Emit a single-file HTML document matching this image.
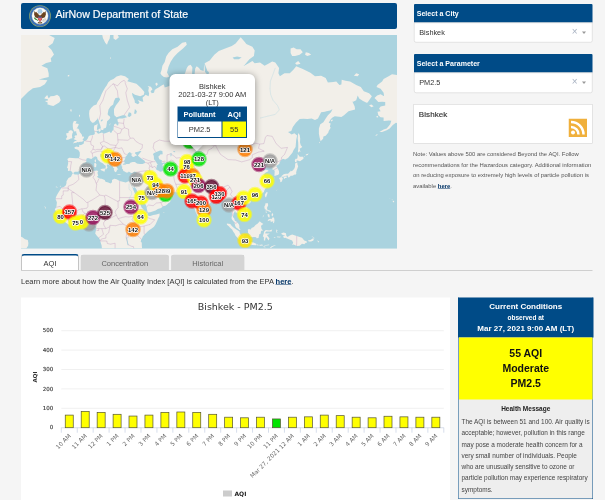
<!DOCTYPE html>
<html lang="en"><head><meta charset="utf-8"><title>AirNow Department of State</title>
<style>
html,body{margin:0;padding:0;width:605px;height:500px;overflow:hidden;background:#f5f5f5}
#root{position:absolute;left:0;top:0;width:1210px;height:1000px;transform:scale(.5);transform-origin:0 0;font-family:"Liberation Sans",Arial,sans-serif;color:#333;background:#f5f5f5;overflow:hidden}
#root *{box-sizing:border-box}
.abs{position:absolute}
.hdr{left:42px;top:6px;width:752px;height:52px;background:#004b87;border-radius:4px;color:#fff}
.hdr .t{position:absolute;left:69px;top:-3px;line-height:52px;font-size:21.3px;white-space:nowrap;-webkit-text-stroke:.35px #fff}
.seal{position:absolute;left:15.6px;top:4px;width:44px;height:44px}
.map{left:42px;top:70px;width:752px;height:427px;overflow:hidden;background:#aad3df}
.mapsvg{position:absolute;left:0;top:0;display:block;filter:blur(.7px)}
.mlab text{font:bold 5.9px "Liberation Sans",sans-serif;text-anchor:middle;fill:#111;stroke:#fff;stroke-width:1.5px;paint-order:stroke;stroke-linejoin:round}
.popup{left:297px;top:78px;width:171px;height:142px;background:#fff;border-radius:12px;box-shadow:0 3px 14px rgba(0,0,0,.4);text-align:center;font-size:15px;line-height:16.3px;color:#333}
.popup .txt{position:absolute;left:0;right:0;top:16px}
.tip{left:343px;top:212px;width:17px;height:17px;background:#fff;transform:rotate(45deg);box-shadow:0 3px 14px rgba(0,0,0,.4)}
.tipcover{left:323px;top:208px;width:60px;height:12px;background:#fff}
.ptab{position:absolute;left:15.5px;top:64.6px;width:139.5px;height:63.2px;background:#004b87}
.ptab div{position:absolute;font-size:15px;text-align:center}
.ptab .h{top:0;height:30px;line-height:29px;color:#fff;font-weight:bold}
.ptab .c{top:30.6px;height:30.8px;line-height:29px;color:#333;background:#fff}
.sec{left:827.5px;width:357.5px;height:37px;background:#004b87;color:#fff;font-weight:bold;font-size:14.1px;line-height:36.5px;padding-left:6px;border-radius:2px 2px 0 0}
.dd{left:827.5px;width:357.5px;height:40px;background:#fff;border:1px solid #ccc;border-radius:0 0 4px 4px;font-size:14.6px;line-height:39px;padding-left:10px;color:#333}
.dd .x{position:absolute;right:29px;top:-3px;color:#a9b3c2;font-size:20px}
.dd .a{position:absolute;right:12px;top:16.5px;width:0;height:0;border-left:4.5px solid transparent;border-right:4.5px solid transparent;border-top:5px solid #999}
.bx{left:827px;top:208px;width:358px;height:79px;background:#fff;border:1px solid #ccc;font-size:16px;padding:10px 0 0 9.5px;color:#333;letter-spacing:.2px;-webkit-text-stroke:.3px #333}
.note{left:826px;top:297px;width:370px;font-size:11.75px;line-height:21px;color:#555;white-space:nowrap}
.note b{color:#003366;text-decoration:underline}
.tabs{left:42px;top:508px;width:1143px;height:34px;border-bottom:2px solid #cfcfcf}
.tab{position:absolute;top:1px;height:31px;background:#d4d4d4;border:1px solid #d0d0d0;border-bottom:none;border-radius:6px 6px 0 0;text-align:center;font-size:15px;line-height:33px;color:#666}
.tab.on{top:0;background:#fff;border:2px solid #c4c4c4;border-top:3.5px solid #004b87;border-bottom:none;color:#333;line-height:31px;height:32px}
.learn{left:42px;top:553px;font-size:15px;line-height:20px;color:#333;white-space:nowrap}
.learn b{color:#003366;text-decoration:underline}
.chart{left:42px;top:595px;width:858px;height:420px;background:#fff}
.chartsvg{display:block}
.chartsvg text{font-family:"DejaVu Sans","Liberation Sans",sans-serif}
.yl{font-size:11px;fill:#333;stroke:#333;stroke-width:.25px}
.xl{font-size:11.7px;fill:#666}
.ttl{font-size:19px;fill:#333}
.yt{font-size:11px;fill:#333;font-weight:bold}
.lg{font-size:12px;fill:#222;font-weight:bold}
.cc{left:917px;top:595px;width:269px;height:403px;background:#eeeeee;border:1.6px solid #004b87;border-top:none}
.cc .h{position:absolute;left:-1.6px;right:-1.6px;top:0;height:80px;background:#004b87;color:#fff;text-align:center;font-weight:bold}
.cc .h div{position:absolute;left:0;right:0;white-space:nowrap}
.cc .y{position:absolute;left:0;right:0;top:80px;height:124px;background:#ffff00;color:#111;text-align:center;font-weight:bold;font-size:21px;line-height:30.5px;padding-top:16px}
.cc .hm{position:absolute;left:0;right:0;top:215px;text-align:center;font-weight:bold;font-size:13px;color:#222}
.cc .tx{position:absolute;left:5px;top:237.5px;font-size:12.9px;line-height:22.5px;color:#444;white-space:nowrap}
</style></head><body>
<div id="root">
<div class="abs hdr">
<svg class="seal" viewBox="0 0 44 44"><circle cx="22" cy="22" r="21.7" fill="#93a86a"/><circle cx="22" cy="22" r="20.5" fill="#356bb3"/><circle cx="22" cy="22" r="19.2" fill="none" stroke="#5d8ccb" stroke-width="1" stroke-dasharray="1.5 1.2"/><circle cx="22" cy="22" r="16.3" fill="#fdfdfb" stroke="#c8d3c0" stroke-width=".8"/>
<path d="M21 28L12.2 24.5 10.2 19 10.8 12.2 13.4 15.2 14.6 13.4 16.6 17 18 15.8 19.4 19.6 21 21.5Z" fill="#6a4522"/><path d="M23 28L31.800000000000001 24.5 33.8 19 33.2 12.2 30.6 15.2 29.4 13.4 27.4 17 26 15.8 24.6 19.6 23 21.5Z" fill="#6a4522"/>
<path d="M19.2 20.5h5.600000000000001l1 8-3.8 6.2-3.8-6.200000000000003z" fill="#5a3a1c"/>
<circle cx="22" cy="12.8" r="4.3" fill="#a9cde6" stroke="#86b2d6" stroke-width=".8"/>
<path d="M20.6 17.2q1.4-1.6 2.8 0l-.4 3.2h-2z" fill="#f3efe6"/>
<path d="M18.6 23.6h6.800000000000001v4.6q0 3-3.4 4.6-3.4-1.6-3.4-4.6z" fill="#f08a8f"/><path d="M19.9 25v5.6M22 25v7.4M24.1 25v5.6" stroke="#d9343f" stroke-width="1.1"/><rect x="18.6" y="23" width="6.8" height="2.3" fill="#2b4a8c"/>
<path d="M9.6 25.2q2.6-.4 4.200000000000001 1.7999999999999998 2.4 1.2 4.4 3.4l-1 1.6q-2.4-2.2-4.6-2.4-2.6-1.6-3-4.4z" fill="#3f9146"/>
<path d="M26.4 30.6l7.6-4.8M26.8 31.8l8.2-3.6M27.4 33l7.6-1.6" stroke="#9a917f" stroke-width=".8"/>
<path d="M18.5 33.4q3.5 2.4 7 0l1.2 2.6q-4.7 2.2-9.4 0z" fill="#7a5a36"/></svg>
<div class="t">AirNow Department of State</div></div>
<div class="abs map"><svg class="mapsvg" viewBox="0 0 376 213.5" width="752" height="427" preserveAspectRatio="none">
<rect width="100%" height="100%" fill="#aad3df"/>
<path d="M99.9 40.2L104.0 41.2L107.8 43.9L106.3 46.2L110.9 47.5L115.4 48.8L120.0 53.0L123.4 57.0L122.8 59.7L119.2 61.2L113.9 59.7L110.9 57.8L111.6 60.9L113.6 65.3L113.9 67.8L117.0 69.2L118.5 67.4L116.7 64.9L120.8 66.4L122.3 66.7L121.5 62.7L124.6 59.7L127.6 61.2L128.1 58.6L127.3 55.8L127.9 52.6L126.6 50.9L129.9 51.7L131.5 54.2L129.6 56.2L130.7 58.2L133.0 57.8L133.7 55.0L135.3 53.8L137.6 52.6L141.4 50.0L142.9 49.6L143.7 52.6L147.5 51.3L150.5 50.0L152.8 46.2L153.6 47.0L158.2 48.3L159.7 49.2L162.7 51.7L165.0 52.6L163.5 47.0L162.4 42.1L164.3 37.4L165.8 32.9L167.3 30.8L169.6 29.8L171.4 32.4L171.1 38.3L171.6 45.3L173.0 50.9L171.9 55.4L170.4 59.3L173.4 55.8L174.2 51.7L174.9 45.3L173.4 40.7L174.2 33.4L175.7 31.3L178.0 32.9L179.5 34.9L182.6 35.9L183.3 28.7L184.1 36.9L187.2 40.7L187.2 43.9L187.9 36.9L186.4 35.9L183.6 28.2L188.7 25.4L193.3 19.7L197.8 16.1L205.5 13.0L210.8 11.1L214.6 8.4L219.7 2.2L223.8 7.1L225.3 9.1L231.4 11.7L233.7 15.5L232.9 20.9L228.4 24.3L223.8 29.8L222.3 31.3L226.8 28.7L231.4 26.0L233.7 28.2L239.0 27.6L243.6 30.8L248.2 28.2L251.2 26.5L254.3 27.6L258.1 32.9L257.4 38.3L258.9 41.2L261.9 39.3L263.5 38.3L268.8 38.3L272.6 34.4L275.2 31.3L281.8 33.9L289.4 37.8L294.0 41.2L300.1 40.7L304.7 43.0L306.9 47.5L312.3 47.0L315.3 46.6L318.4 50.0L320.4 49.6L320.7 44.8L324.5 45.7L329.1 46.6L335.2 50.0L339.8 52.1L342.8 56.2L348.1 58.2L350.9 61.2L346.6 67.4L345.6 67.8L342.0 66.0L338.2 63.5L336.7 60.5L335.2 65.3L332.1 66.7L331.4 66.4L333.7 71.6L334.1 74.6L327.5 76.2L323.0 80.3L320.4 81.9L313.8 81.2L311.5 82.5L309.7 84.3L307.7 87.8L309.7 88.4L308.9 91.5L309.7 92.8L307.7 96.1L307.4 97.4L304.7 100.8L302.4 101.5L302.1 103.8L299.6 106.2L298.6 102.5L297.9 98.7L297.9 93.4L299.3 89.2L302.4 87.2L304.7 83.4L306.9 80.3L310.0 77.2L311.5 73.9L309.2 75.6L305.4 76.2L303.9 76.8L300.1 77.2L297.0 83.4L294.0 84.9L290.6 83.4L286.3 84.0L282.5 83.7L278.7 84.0L274.9 87.8L271.8 92.0L270.3 96.1L267.0 96.9L269.6 98.7L270.6 99.5L273.4 98.2L276.1 100.5L275.2 105.0L274.9 108.6L274.6 112.1L272.6 115.1L271.4 117.8L269.1 120.4L267.0 123.1L264.2 124.6L261.9 123.8L260.1 125.2L258.6 127.3L258.4 128.7L256.3 130.3L255.1 131.1L256.4 133.1L258.0 136.1L258.1 138.4L257.4 139.7L255.1 140.5L253.4 141.0L253.5 139.0L253.7 136.5L253.1 134.8L251.2 134.6L251.6 133.1L250.9 131.1L250.2 130.5L246.7 132.1L245.4 132.7L246.2 131.3L247.0 129.3L245.1 128.5L242.9 130.7L240.6 131.9L240.1 133.1L241.8 134.6L242.4 135.8L244.8 134.6L247.4 135.6L247.3 136.3L244.8 137.5L244.1 138.0L242.5 139.9L244.1 141.4L244.8 144.0L246.4 145.8L246.5 147.4L244.8 148.4L246.7 149.3L246.1 151.6L244.7 153.0L243.3 155.4L242.9 157.1L240.9 158.6L239.0 160.1L237.5 161.1L234.9 161.9L233.7 162.2L231.0 163.2L229.1 163.7L228.7 165.2L228.1 163.6L226.1 163.1L223.8 164.2L223.2 165.4L221.8 167.5L223.0 169.5L224.5 171.5L226.5 173.4L227.3 176.2L227.1 178.9L225.3 180.3L223.5 181.2L223.2 182.6L221.0 183.7L220.4 182.0L220.0 181.0L218.4 180.7L217.5 178.9L216.1 177.8L214.5 177.5L214.5 176.2L213.4 176.4L213.1 177.8L212.3 180.1L211.9 182.0L213.1 183.2L213.9 185.8L215.4 186.6L216.6 187.7L218.0 189.4L218.4 190.9L218.3 192.7L219.5 194.9L218.4 195.0L216.9 193.8L215.1 192.6L214.2 190.9L213.7 188.6L213.2 187.1L212.5 186.3L211.1 184.8L210.5 183.2L210.8 180.9L211.1 178.6L210.4 176.2L209.6 173.8L209.4 171.5L208.4 170.8L206.2 172.6L204.4 172.3L204.7 169.9L203.9 167.8L203.2 166.0L201.3 164.5L200.9 163.1L200.1 161.7L198.6 161.4L196.3 162.7L195.1 163.1L193.3 164.2L193.0 165.5L191.0 166.3L188.7 168.3L186.1 171.0L184.4 172.3L183.0 173.1L182.7 175.4L183.0 177.0L182.4 178.6L182.3 181.2L181.4 181.4L180.9 182.7L179.8 183.4L178.8 184.6L177.2 183.2L176.5 180.9L175.4 178.6L174.6 177.0L174.0 174.6L173.1 172.6L172.4 170.7L171.7 167.5L171.4 165.0L171.3 163.4L170.7 164.2L168.8 164.5L167.3 163.9L165.8 162.1L167.3 161.6L168.1 160.9L165.8 161.1L165.0 160.1L163.5 159.3L162.7 157.9L162.0 156.9L158.9 157.2L155.1 157.2L152.1 157.1L149.0 156.6L147.5 154.5L146.4 154.0L144.1 154.9L142.1 154.5L140.6 153.2L139.1 152.6L138.0 150.7L136.8 148.8L135.3 148.4L134.5 149.1L133.7 149.9L134.5 151.6L135.7 153.7L136.9 154.9L137.1 156.4L138.0 157.9L138.0 156.7L138.6 155.7L139.2 157.2L138.9 158.4L140.6 159.1L142.9 159.1L144.9 157.2L146.1 155.7L146.6 157.6L147.2 158.9L149.8 159.9L151.8 161.7L150.1 164.9L148.7 167.5L147.9 167.8L146.4 169.2L144.4 170.7L141.8 171.3L140.2 172.9L136.8 174.0L134.5 175.4L131.5 176.4L129.2 177.3L126.9 177.5L126.4 176.2L125.8 173.8L125.5 171.5L124.6 169.5L123.1 167.5L121.5 165.4L120.3 163.4L119.2 160.1L117.4 157.9L116.2 155.9L114.7 153.3L113.6 152.5L113.9 149.9L113.1 152.1L112.7 153.0L111.6 151.9L110.5 149.9L110.2 149.1L110.1 150.2L111.6 152.8L112.4 155.0L113.9 158.4L114.8 160.1L116.7 162.6L117.3 164.2L117.3 166.7L119.2 169.1L120.6 172.6L122.3 174.2L123.8 175.7L125.7 177.1L126.6 177.9L126.4 179.2L127.6 180.9L129.2 180.9L132.2 180.0L135.3 179.6L138.6 178.6L138.5 180.9L137.3 183.2L136.0 186.3L134.5 189.4L133.0 191.7L130.7 193.5L128.4 195.0L126.1 197.0L124.6 198.5L123.1 200.1L121.8 201.6L121.1 203.3L120.3 204.6L119.7 206.6L120.8 207.7L120.8 210.0L121.2 215.4L81.1 215.4L80.6 210.5L79.3 206.2L78.8 204.6L78.0 203.1L75.8 200.8L74.2 198.5L74.7 196.2L75.3 193.9L75.1 191.7L74.1 190.1L71.2 190.3L69.7 190.4L68.1 188.6L67.2 187.4L64.3 187.2L62.0 188.0L59.7 188.9L57.4 189.7L55.2 189.1L52.9 189.2L49.1 190.3L46.8 189.1L44.0 187.1L41.4 185.5L40.2 184.0L40.2 182.4L38.4 180.9L37.3 179.8L35.0 177.9L34.9 176.2L33.8 174.3L35.3 172.3L35.6 169.9L35.9 167.5L35.3 165.8L34.6 164.2L34.9 162.2L36.1 159.8L37.9 156.7L40.2 153.3L40.8 152.6L42.9 151.9L44.9 150.2L45.5 148.1L45.5 146.3L47.5 143.1L50.0 141.8L51.5 138.4L52.4 138.2L53.6 139.5L55.9 139.4L57.4 139.7L59.0 138.6L60.5 138.2L62.8 137.1L65.1 136.5L68.1 136.5L71.2 136.0L74.2 135.8L75.8 135.6L77.0 136.1L77.3 136.3L76.5 137.3L76.7 139.0L77.3 140.8L75.9 141.8L77.3 142.7L79.6 143.8L80.6 143.8L83.7 144.9L84.5 146.7L87.2 147.4L89.5 148.4L91.0 147.2L91.0 144.9L93.3 143.8L95.6 144.3L98.6 146.0L101.7 146.7L104.8 147.4L106.3 146.7L107.8 146.3L109.8 146.8L111.6 147.0L112.8 146.7L113.8 144.5L114.1 143.2L114.8 141.2L115.3 139.0L115.6 137.1L114.7 136.9L113.3 136.5L111.9 137.7L110.1 137.9L107.8 136.5L107.0 137.5L105.2 137.5L103.7 136.5L102.3 136.1L102.0 134.4L100.9 133.3L101.4 131.7L100.5 131.3L100.5 130.3L100.2 128.9L98.6 128.5L97.1 128.9L96.8 130.3L95.4 129.5L95.1 131.3L96.1 132.3L95.6 132.9L97.1 133.8L97.1 134.8L95.9 134.4L95.9 135.6L95.3 136.7L94.8 137.3L93.6 136.5L92.8 134.6L93.3 133.6L92.2 132.7L91.5 131.3L90.7 129.9L90.1 129.3L90.3 127.3L89.8 126.3L88.7 125.2L87.2 124.2L84.9 122.9L83.7 121.7L83.2 119.9L82.3 119.3L81.7 120.4L81.3 118.9L79.4 119.1L79.3 121.4L81.1 122.9L82.2 125.2L83.7 126.5L85.1 126.5L84.9 127.5L86.4 128.3L88.7 130.1L88.6 130.7L87.8 129.7L86.4 129.3L85.7 130.9L86.6 132.3L85.7 133.4L85.1 134.4L84.5 134.2L84.6 132.5L84.9 131.5L84.3 130.3L83.4 129.9L82.6 129.1L81.4 127.9L79.6 127.3L79.1 126.7L77.6 125.4L76.5 124.2L76.1 122.3L75.0 121.4L73.9 121.2L73.0 122.3L71.8 122.7L70.4 124.0L68.6 123.6L66.9 123.1L65.4 123.8L65.2 125.4L65.4 126.7L63.9 127.7L61.7 128.7L60.5 130.5L60.0 131.5L60.8 132.9L59.7 133.6L59.3 135.0L57.6 136.3L56.8 136.7L53.8 136.7L52.4 137.9L51.3 137.7L50.7 136.5L49.2 135.8L46.9 136.1L47.1 133.4L46.0 132.7L46.8 130.3L47.2 127.9L46.9 125.2L46.3 124.0L48.3 122.7L51.3 122.9L54.7 123.3L57.8 123.3L58.7 121.0L58.8 118.6L58.7 117.3L57.3 115.1L56.2 114.4L53.9 113.7L53.3 112.4L55.2 111.4L57.4 111.9L58.2 111.7L58.1 109.6L58.8 110.3L60.8 109.8L62.8 108.4L62.9 106.5L65.4 105.3L66.6 103.8L67.7 101.3L68.9 100.5L71.2 100.0L73.0 99.7L73.8 98.7L73.6 96.3L73.0 94.7L72.9 92.0L73.5 90.3L75.0 90.1L76.7 88.6L76.2 92.0L75.8 95.5L75.3 96.6L76.1 97.7L77.1 98.7L78.8 98.2L81.1 97.4L82.3 98.7L84.9 97.9L88.7 96.6L89.2 97.7L90.7 97.4L91.0 96.3L92.5 94.7L92.7 91.2L93.3 89.2L95.0 88.6L95.9 90.3L97.1 90.6L97.7 87.8L96.7 86.6L96.4 84.3L98.2 83.4L101.7 83.4L103.2 83.1L106.0 82.2L104.0 80.3L101.7 80.3L98.6 81.2L95.6 82.2L93.3 80.3L93.0 77.2L93.0 73.9L94.8 70.6L97.9 66.4L99.1 64.6L98.0 62.4L94.5 63.1L93.0 66.0L92.2 69.5L89.5 71.6L87.5 74.6L86.7 78.8L86.9 80.0L88.7 81.2L89.3 82.8L88.3 84.3L86.1 86.3L85.7 89.2L85.2 92.0L84.6 93.1L82.6 93.4L82.2 95.0L80.3 95.0L79.9 93.1L79.3 90.6L78.5 88.4L77.6 85.2L76.8 84.0L76.7 82.5L76.2 84.3L75.0 85.5L73.0 87.5L71.2 87.8L69.2 85.5L68.4 81.9L68.1 78.8L68.4 75.6L70.1 72.9L72.7 70.6L75.5 69.5L76.5 67.1L78.8 63.5L80.3 59.7L82.3 55.8L84.2 52.6L85.7 50.5L87.2 47.5L89.5 45.3L92.5 43.9L95.6 41.6Z M-8.2 200.1L-2.8 201.4L1.0 202.0L4.0 204.3L6.8 205.1L7.4 207.9L7.1 210.8L5.6 213.1L2.5 217.0L-8.2 217.0Z M23.3 171.0L24.5 173.4L25.1 173.7L24.5 171.9Z M77.3 94.5L79.6 93.1L79.7 95.5L78.5 96.9L77.3 95.5Z M75.5 94.7L76.8 94.7L76.8 96.1L75.8 96.1Z M88.3 90.1L89.5 88.1L89.2 89.5L88.4 90.6Z M51.8 108.4L54.1 107.7L55.2 107.9L55.9 107.0L57.8 107.2L59.0 106.7L61.0 106.7L62.6 105.7L62.5 105.3L61.4 105.0L62.0 104.3L63.1 102.3L62.5 101.5L61.0 101.5L61.0 100.0L60.2 98.7L58.7 97.1L58.1 94.7L57.1 93.4L55.6 93.4L56.5 92.3L57.4 90.6L57.8 88.9L55.2 88.6L54.4 88.9L55.6 86.3L52.9 86.0L51.8 88.6L51.8 91.5L52.1 93.9L53.0 96.1L52.7 96.6L55.2 96.3L55.3 97.9L55.9 99.0L55.9 100.3L53.9 100.5L53.5 101.8L54.4 102.8L52.6 104.0L53.9 104.8L55.9 105.3L55.2 105.7L53.6 106.2Z M51.3 103.3L51.0 100.5L51.3 98.7L52.1 97.1L51.0 95.5L49.1 95.3L47.5 96.6L47.5 97.9L45.2 98.2L45.5 100.5L46.3 101.3L45.5 103.3L44.8 103.8L45.7 105.0L47.8 104.5L49.8 103.5Z M26.2 69.2L30.0 70.6L32.3 70.9L36.1 68.8L38.2 67.4L39.7 65.3L38.4 61.6L36.1 59.7L33.0 60.9L29.5 61.2L27.7 63.5L26.2 60.1L23.9 62.4L23.4 63.5L26.9 64.2L26.9 65.6L23.9 66.0L26.9 67.8Z M76.5 -11.7L78.0 -5.3L81.1 -0.7L81.9 2.9L84.2 7.8L86.0 9.8L86.9 7.1L88.7 3.6L89.5 -3.7L92.5 -7.6L92.5 -35.6L76.5 -35.6Z M92.5 3.6L94.8 5.0L97.9 2.2L95.6 -2.2L92.5 0.0Z M89.5 -9.2L95.6 -7.6L101.7 -11.7L101.7 -35.6L89.5 -35.6Z M139.4 38.3L140.6 34.9L141.4 30.8L143.7 27.1L145.2 21.5L147.5 17.9L151.3 14.3L156.6 11.7L161.2 7.8L165.0 7.1L165.8 9.8L162.0 13.6L156.6 17.9L152.8 22.0L149.8 26.5L147.5 31.8L146.0 37.4L148.2 41.6L146.0 42.6L142.9 42.1L140.6 40.2Z M134.2 48.8L136.0 47.5L136.8 49.6L135.3 50.9Z M149.8 44.4L151.3 42.6L152.8 45.3L151.3 46.6Z M208.5 -7.6L211.6 -3.7L213.9 -0.7L217.7 -1.5L220.7 -3.0L217.7 -11.7L213.1 -35.6L208.5 -35.6Z M269.6 13.6L272.6 12.4L275.7 14.3L279.5 14.3L281.8 17.3L278.7 19.7L274.1 20.9L271.1 20.9L269.6 17.9Z M284.8 17.3L287.9 17.9L290.2 19.7L286.3 20.9L284.1 19.7Z M274.1 28.2L277.2 26.0L279.5 28.7L275.7 29.8Z M332.9 40.7L335.2 38.3L338.2 39.3L336.7 41.2Z M353.5 63.1L356.1 60.5L359.6 59.3L363.1 61.2L362.6 57.8L359.6 53.8L355.5 52.1L356.5 50.0L361.1 46.6L362.6 43.9L367.2 41.6L371.0 39.3L381.0 40.7L381.0 89.2L374.9 87.8L371.8 90.1L368.7 93.4L365.7 95.3L361.1 96.9L358.4 97.1L362.6 94.5L365.7 93.4L369.2 89.2L370.3 85.7L368.0 85.5L362.6 86.0L362.6 82.5L359.6 82.2L357.3 80.3L356.5 76.8L359.6 76.2L358.1 73.6L359.6 71.6L364.2 70.6L364.2 67.1L361.1 66.7L357.3 67.1L355.0 64.6Z M348.1 70.2L350.4 69.5L352.7 71.2L350.4 72.3Z M355.3 81.2L356.8 80.9L357.3 82.2L355.8 82.5Z M277.2 97.9L278.7 100.0L279.2 103.8L279.0 107.4L279.8 110.3L281.3 111.9L278.7 113.7L279.2 116.0L279.5 117.3L278.3 116.2L277.2 117.8L276.9 116.4L277.2 114.4L277.3 111.0L277.2 107.4L276.7 103.8L276.9 100.3Z M274.1 127.3L275.7 126.7L275.7 125.2L279.0 126.3L282.5 123.8L282.2 121.7L278.7 121.7L276.7 119.1L276.6 122.1L276.1 123.8L274.6 123.8L273.8 125.2Z M276.3 127.5L276.4 129.3L277.2 131.3L276.4 133.6L275.7 135.2L275.1 137.7L275.4 138.6L274.1 139.9L273.7 139.4L272.6 139.9L272.2 140.5L271.1 140.7L269.6 140.7L269.3 141.2L268.5 142.0L267.7 142.7L266.7 141.2L267.0 140.5L265.0 140.7L263.5 141.2L262.4 141.8L260.4 141.8L260.3 141.2L261.2 140.5L262.7 139.2L265.0 138.8L267.0 138.8L268.0 137.7L269.1 136.5L270.0 135.2L269.6 136.5L271.8 135.4L273.4 133.6L274.0 131.7L274.1 130.3L274.1 129.1L274.6 127.9Z M260.3 142.0L261.5 142.7L261.9 143.6L261.2 145.4L260.6 146.7L259.9 147.2L259.2 146.7L259.2 145.1L258.4 144.1L258.1 143.1L259.3 142.5Z M262.7 142.0L265.0 141.2L266.0 142.1L265.3 143.1L264.2 142.9L263.5 144.1L262.7 143.2Z M245.9 157.1L246.7 157.6L245.9 160.1L245.0 162.6L243.9 161.3L243.9 159.6L245.1 157.6Z M226.4 167.0L227.6 165.8L229.6 165.8L229.9 166.7L229.0 168.1L227.6 168.7L226.4 168.1Z M244.5 168.3L247.0 168.3L247.1 170.7L246.1 172.3L246.1 173.8L246.7 175.1L248.7 175.4L249.7 175.9L249.9 177.6L248.7 176.7L247.4 176.2L246.2 175.6L244.5 175.6L245.0 174.5L243.8 174.2L243.3 171.8L244.2 169.9Z M246.7 186.3L247.0 184.8L249.0 183.7L250.5 184.0L252.0 182.0L253.2 183.2L253.5 185.8L253.1 187.4L251.9 188.4L252.2 186.3L249.7 187.1L249.7 185.5L248.2 185.5Z M251.2 177.8L252.3 179.8L251.2 181.4L250.5 180.1Z M246.7 178.9L248.2 179.3L248.7 180.9L248.2 182.9L247.4 182.0L246.7 180.9Z M239.5 184.3L242.9 180.9L243.2 179.6L241.3 182.4Z M244.4 176.4L245.9 176.7L245.4 178.1L245.0 177.8Z M226.8 194.7L227.7 193.9L229.9 194.4L230.5 192.9L232.9 192.1L234.5 190.1L236.8 188.6L238.7 186.3L240.1 187.4L242.4 188.9L240.9 190.1L240.0 190.9L240.3 192.4L240.6 193.9L242.1 195.5L240.3 195.8L239.8 197.0L239.8 198.5L238.3 199.3L237.8 201.6L237.5 203.1L235.4 203.3L235.2 202.2L232.9 201.9L231.1 202.3L228.7 201.4L228.4 199.3L227.1 198.1L227.0 196.5Z M205.9 188.4L209.3 189.1L210.8 190.9L213.1 192.9L214.6 193.9L216.9 195.5L218.4 196.5L218.9 198.5L220.0 199.7L222.3 201.6L222.3 205.9L221.9 206.0L220.0 205.7L217.7 203.9L216.5 202.8L214.6 200.8L213.6 198.5L212.3 196.7L211.1 194.4L209.3 192.9L207.8 191.3L205.9 189.7Z M221.0 207.4L222.3 206.0L223.8 206.0L226.1 206.9L229.1 207.6L229.9 206.9L232.5 207.6L235.2 208.8L235.1 210.3L231.4 209.9L228.4 209.2L225.3 208.9L222.9 208.3Z M235.2 209.4L237.1 209.6L236.8 210.5L235.4 210.0Z M237.5 209.7L238.6 209.7L238.4 210.6L237.5 210.5Z M238.7 209.9L240.6 209.6L242.2 209.9L241.8 210.6L239.0 210.8Z M243.3 209.9L245.1 210.0L248.2 209.6L247.9 210.3L245.1 210.6L243.5 210.5Z M242.1 211.4L243.9 211.4L244.8 212.3L242.9 212.2Z M249.0 212.8L250.5 211.3L254.3 209.9L254.6 210.3L251.2 212.0L249.7 213.3Z M242.9 205.4L242.9 202.3L241.8 201.3L242.5 199.3L243.3 196.2L244.8 195.0L248.2 195.6L251.2 194.6L250.5 196.4L248.2 196.5L245.1 196.4L243.9 198.2L245.9 198.5L248.7 198.4L247.9 199.3L245.9 199.9L247.1 201.6L248.5 203.4L247.6 205.4L246.7 204.3L245.9 203.1L245.0 202.0L244.2 204.3L244.2 205.6Z M255.1 194.1L255.8 195.5L256.9 195.2L255.8 196.5L256.6 198.1L255.5 197.5L255.1 195.9Z M255.8 201.6L260.1 201.7L258.9 202.5L256.1 202.3Z M252.8 201.9L254.6 202.0L254.0 202.8L252.9 202.5Z M260.4 198.2L262.7 197.6L265.0 198.2L265.3 200.8L266.5 202.0L268.8 200.4L271.1 199.4L275.7 201.0L281.0 202.8L283.3 205.4L285.6 206.2L286.0 207.7L284.8 207.7L283.3 209.2L281.0 208.8L278.7 210.8L275.7 211.1L272.6 209.6L271.1 209.9L272.2 207.7L271.1 205.4L267.3 203.9L264.2 202.8L263.1 203.1L261.9 201.4L264.2 200.7L261.9 200.1L260.4 199.1Z M286.8 205.6L289.4 204.9L291.7 203.4L292.9 203.6L292.4 205.4L290.2 206.5L287.9 206.5Z M290.6 201.1L293.2 202.8L294.0 204.2L293.5 203.4L290.9 201.6Z M296.4 205.3L298.2 206.8L297.8 207.6L296.7 206.5Z M182.3 182.1L182.9 182.0L184.4 184.0L185.5 185.8L185.0 187.2L183.5 188.0L182.6 187.5L182.3 185.5L182.3 184.0Z M109.8 139.9L110.9 140.7L112.4 139.9L113.3 138.6L111.6 139.2L110.7 139.4Z M96.4 139.0L97.9 139.2L100.6 139.5L98.2 140.1L96.4 139.5Z M79.6 134.2L81.1 133.8L84.3 133.6L83.7 135.8L83.5 136.7L81.9 136.1L79.6 135.0Z M73.0 128.5L74.5 127.9L75.5 129.3L75.1 131.9L74.2 132.3L73.3 131.9L73.3 129.7Z M73.6 125.2L74.8 124.2L75.0 126.3L74.5 127.5L73.8 126.7Z M64.2 131.1L65.2 130.5L65.7 131.1L65.1 131.7Z M141.8 177.6L143.7 177.6L142.9 178.1Z M371.8 165.5L373.3 166.3L372.6 167.5L371.8 166.7Z M370.7 164.2L371.6 164.4L371.5 164.9L370.9 164.7Z M368.4 163.2L369.2 163.4L369.1 163.7L368.6 163.6Z M49.2 74.6L50.7 74.6L50.4 76.8L49.5 76.2Z M58.1 79.7L59.1 80.0L58.7 82.2L58.1 81.2Z M46.8 40.2L48.3 39.8L48.3 41.2L46.8 41.6Z M89.0 22.6L89.9 22.6L89.8 23.8L89.2 23.8Z M34.7 151.8L35.9 151.4L35.6 152.5L34.9 152.3Z M36.4 152.1L37.1 152.3L36.8 153.0Z M38.7 151.4L39.9 150.4L39.4 152.1Z M309.7 85.7L311.2 84.3L311.8 85.5L310.2 86.6Z M297.8 107.4L299.0 106.7L298.6 108.2Z M284.8 119.5L287.6 118.6L286.7 119.9L284.8 120.6Z M282.5 122.3L284.1 121.0L283.6 122.1Z M255.2 155.5L256.3 154.5L255.8 155.4Z M253.1 143.1L254.1 142.7L254.0 143.2Z M221.2 199.6L223.0 200.1L223.3 201.6L221.6 200.8Z M354.3 100.5L356.2 99.0L356.5 100.0L355.0 100.8Z M28.1 -5.0L28.1 0.0L33.7 2.9L31.7 8.2L27.1 11.5L30.4 14.8L33.0 19.5L29.7 23.4L30.4 26.7L25.1 28.1L20.4 30.7L26.4 33.3L27.7 38.6L27.7 41.9L22.4 43.3L17.8 44.6L26.4 45.2L23.8 49.2L19.1 51.9L11.9 53.2L7.0 57.0L4.0 60.0L0.0 64.0L-6.0 69.0L-6.0 -5.0Z" fill="#f2efe9"/>
<path d="M78.0 84.9L79.6 78.8L78.8 70.6L81.9 65.3L84.9 55.8L91.0 49.6L92.5 48.8 M97.1 62.4L96.4 55.8L92.5 48.8L96.4 50.9L99.9 47.0L103.2 45.3L104.8 47.5 M102.9 80.3L106.3 75.6L108.6 72.3L106.3 65.3L104.8 57.8L106.3 53.8L104.0 47.5 M103.2 83.7L102.5 88.4L103.5 92.8L107.5 94.2L107.8 100.0L109.3 103.3L112.4 103.0L114.7 106.2L118.5 108.6L121.5 109.6L121.1 113.3L118.8 115.1 M92.5 95.3L95.3 97.7L96.4 98.7L96.8 103.8L97.1 107.4L95.1 110.5 M92.7 91.2L97.1 92.6L100.9 94.2L103.5 92.8 M97.7 87.8L102.5 88.4 M96.4 98.7L99.4 98.2L100.9 94.2 M82.3 99.0L82.9 106.2L79.1 107.9L81.6 111.4L80.3 114.4L75.8 114.4L75.0 115.1L71.9 114.2L72.7 111.0L70.0 109.8L69.7 106.7L64.3 106.0 M69.7 106.7L71.2 103.0L71.5 100.5 M73.6 96.3L75.3 96.6 M57.8 123.3L61.6 124.8L65.2 125.4 M71.9 122.5L71.2 118.2L69.7 117.1L71.9 114.2 M71.2 118.2L73.5 117.3L76.4 116.4L79.3 116.0L81.4 116.7L81.3 118.9 M81.4 116.7L85.2 116.0L86.6 113.3L89.2 113.7L94.4 112.4L95.1 110.5 M80.3 114.4L81.6 111.4L83.4 111.0L86.6 113.3 M47.1 126.5L50.6 126.7L49.8 130.3L49.5 133.3L49.2 135.8 M96.8 104.8L101.7 105.0L107.0 105.3L109.3 103.3 M94.4 112.4L97.9 113.5L100.9 112.8L103.5 118.9L105.8 119.5 M83.1 106.5L86.4 107.9L89.5 109.8L95.1 110.5 M85.2 116.0L85.7 117.8L89.5 118.0L91.5 117.5L94.4 112.4 M91.5 117.5L93.3 120.4L95.1 121.7L98.6 122.7L104.0 122.7 M89.5 118.0L89.5 120.2L90.1 123.1L88.7 125.2 M81.3 118.9L84.2 118.9L85.7 117.8 M84.6 119.5L84.9 121.7L87.5 124.2 M89.9 126.5L91.8 128.3L92.5 128.5L95.4 127.7L100.6 126.9L103.2 126.3 M95.1 121.7L94.7 125.4L95.4 127.7 M91.8 128.3L91.9 126.3L91.2 125.0L90.1 123.1 M100.6 126.9L100.2 128.9 M123.8 127.3L126.9 128.1L128.9 130.9L128.1 133.3L128.9 135.8 M115.4 137.7L118.5 136.5L125.0 135.8L128.9 135.8L130.7 139.0L129.9 141.8L133.3 147.2L134.5 149.1 M125.0 135.8L123.1 141.0L120.0 144.9L117.0 146.3L113.9 149.9 M114.8 143.2L116.2 144.7L120.0 144.9 M115.3 139.0L116.3 141.4L114.8 143.2 M120.0 144.9L128.7 150.4L131.5 150.6L133.0 150.7L134.4 151.6 M125.8 171.6L127.6 170.0L132.2 170.7L135.3 168.1L139.8 167.5L144.4 165.8L145.5 162.6L144.7 161.4L140.8 161.1L139.2 158.9 M139.8 167.5L141.5 171.3 M145.5 162.6L146.0 158.4L146.4 156.6 M142.7 135.6L147.5 133.8L153.9 136.9L152.8 142.3L153.6 146.3L154.8 149.3L156.6 154.2L154.5 157.2 M154.8 149.3L161.7 149.3L166.2 145.6L168.8 141.8L169.6 137.5L174.2 136.1 M153.9 138.8L158.9 137.5L162.0 135.6L167.3 135.2L169.6 134.2L174.8 135.6 M164.6 159.8L168.8 158.4L167.3 153.3L171.9 149.3L174.2 147.2L175.4 144.5L173.4 140.8L178.0 139.0 M174.8 135.6L178.0 139.0L181.1 144.5L184.1 148.6L188.7 151.1L194.8 152.6L196.3 153.7L200.9 152.8L207.0 150.2L209.0 152.1 M182.9 151.1L188.7 153.5L194.9 155.2L196.0 158.8L196.3 162.6 M201.3 164.5L201.3 159.9L199.7 159.3L201.5 157.6L197.5 157.1L194.9 155.2 M196.3 153.7L197.5 154.7L200.9 154.5L200.9 152.8 M209.0 152.1L205.8 155.0L204.9 157.6L202.9 159.3L201.8 162.6L201.3 164.5 M209.0 152.1L211.1 156.7L209.4 159.3L211.9 162.6L214.8 163.4L213.2 165.4L210.0 166.3L209.1 168.3L211.3 171.5L210.4 173.8L211.9 178.6L211.1 181.4 M213.2 165.4L214.6 169.9L216.3 168.7L219.2 168.6L220.4 171.5L221.6 174.6L216.9 175.1L216.8 176.2L217.5 178.9 M214.8 163.4L216.3 161.9L219.0 161.4L223.2 161.1L225.3 163.4 M216.3 161.9L217.7 164.5L220.6 166.2L221.0 168.4L224.5 171.9L224.5 174.6L224.5 178.1L222.3 180.1L220.0 181.0 M221.6 174.6L224.5 174.6 M213.2 187.1L214.6 188.3L216.3 187.5 M194.5 110.5L199.4 119.3L207.0 124.6L214.6 125.0L220.7 126.9L228.4 124.8L231.4 122.5L231.1 119.9L237.5 117.1L243.2 116.2L237.5 113.3L238.6 109.1 M194.5 110.5L200.9 107.0L210.0 107.9L210.8 103.8L216.1 105.3L222.3 107.9L228.4 110.5L234.5 108.2L238.6 109.1L242.9 108.6L244.4 102.5L245.9 100.5L251.2 101.3L255.1 108.6L260.1 113.3L266.5 112.4L263.5 119.5L260.7 122.1L260.4 124.2L259.8 125.4L255.8 127.3L254.0 126.9L250.2 130.5 M253.1 134.6L256.3 133.1 M134.5 116.7L132.2 112.8L133.0 107.9L138.3 105.0L143.7 106.2L149.8 106.2L153.6 106.2L154.3 100.0L159.7 97.4L165.8 95.3L169.6 98.2L172.7 98.7L177.7 97.9L178.8 100.8L182.6 106.7L187.2 106.2L190.2 109.6L193.7 110.5L191.0 113.3L187.2 115.1L186.1 119.3L182.9 119.9L183.0 124.6L183.0 125.8L179.5 128.3L176.5 129.5L173.4 130.3L173.0 131.3L174.8 135.6 M183.0 124.6L181.1 124.8L174.9 124.4L172.7 124.2L168.8 124.8L168.1 127.3L164.3 128.3L162.0 127.3L161.2 124.2L158.9 122.7L155.1 123.1L153.6 121.4L149.8 118.9L146.0 119.9L146.0 127.7L147.5 127.7L149.8 125.0L152.1 125.8L154.3 127.9L155.6 130.3L158.5 132.5L162.0 135.6 M168.1 127.3L170.4 127.7L172.2 129.3L169.6 129.9L168.1 128.7L166.6 129.9L168.1 130.9L173.0 131.3 M166.6 129.9L164.0 131.7L164.0 135.8 M140.6 126.7L143.7 126.3L145.2 127.7L146.0 127.7 M121.5 123.1L126.1 125.0L131.5 126.7L134.5 126.7 M126.9 128.1L129.2 127.7L131.5 126.7 M129.2 127.7L129.9 128.9L131.5 132.5 M128.9 130.9L131.5 132.5L133.7 131.3L135.1 133.4 M57.1 139.7L57.9 144.5L55.0 147.2L52.1 149.3L47.2 151.2L47.2 153.7 M40.7 153.0L47.2 153.0L47.2 155.9L42.2 155.9L42.2 160.1L40.7 160.9L40.7 163.7L34.6 163.7 M47.2 153.7L53.2 157.6L50.6 157.6L52.0 171.5L52.4 173.1L45.2 173.2L42.9 172.9L41.9 174.2L39.1 171.3L35.3 172.3 M53.2 157.6L62.3 164.2L65.5 167.5L66.9 167.3L71.9 164.5L78.8 160.1L75.0 155.2L75.8 149.0L75.0 148.4 M73.6 136.3L73.2 140.8L71.9 142.1L74.2 145.4L75.0 148.4L76.1 147.7L78.0 143.4 M98.6 146.1L98.6 162.6L98.6 165.8L97.1 165.8L97.1 166.7L84.9 160.1L83.4 160.9L78.8 160.1 M98.6 162.6L116.8 162.6 M97.1 166.7L97.1 172.7L94.8 175.4L94.1 177.6L95.4 180.1L96.5 182.4L97.1 183.7L101.7 182.3L104.8 181.7L107.8 182.0L110.9 181.4L112.4 182.4L110.9 184.8L113.1 186.8L115.3 190.0 M83.4 160.9L84.2 164.2L84.2 171.1L81.3 175.9L75.8 176.7L71.2 177.0L66.6 176.2L66.0 179.0 M66.9 167.3L66.9 171.5L65.8 173.2L62.0 173.8L60.8 173.8L57.4 174.9L54.4 176.7L52.1 179.3L52.1 181.0 M66.0 179.0L64.8 183.2L64.6 187.2 M60.8 173.8L62.0 177.0L63.9 178.2L66.0 179.0 M62.0 180.1L60.8 180.1L56.2 180.1L56.2 182.4L56.4 189.2 M62.3 187.7L61.3 184.8L61.3 181.7L62.0 180.1 M62.9 187.5L62.9 183.2L62.0 180.1L63.9 178.2 M52.1 181.0L48.3 181.4L47.5 185.4L49.1 190.3 M47.5 185.4L44.8 184.0L42.9 186.3 M44.8 184.0L43.7 181.7L40.2 183.2 M48.3 181.4L46.8 178.1L43.1 177.9L41.9 174.2 M43.1 177.9L39.6 177.6L37.6 180.1L35.0 177.9 M39.6 177.6L35.0 177.9 M52.1 181.0L56.2 182.4 M81.3 175.9L82.2 177.8L80.3 181.7L77.3 186.8L73.6 189.7 M82.2 177.8L83.4 181.7L81.9 182.0L84.2 185.5L82.6 187.8L82.8 190.1L84.9 193.6L80.8 193.6L77.7 193.6L75.5 193.5 M84.2 185.5L89.5 183.2L95.4 180.1 M84.9 193.6L88.9 191.7L88.9 190.3L94.8 190.7L98.6 189.4L102.3 189.2L107.5 191.7 M102.3 189.2L97.1 183.7 M112.4 182.4L112.8 180.6L114.7 177.8L116.0 174.9L117.0 170.7L119.4 169.1 M116.0 174.9L120.0 174.5L123.1 175.3L125.2 177.8L126.3 177.5 M125.7 180.1L126.1 182.4L129.2 183.7L133.7 184.8L129.2 189.4L124.6 190.6L123.1 191.0L120.0 191.7L115.4 190.1L112.4 190.6L107.5 191.7 M124.3 180.1L125.2 177.8 M123.1 191.0L123.1 198.2L124.0 199.6 M112.4 190.6L113.1 195.5L112.4 198.5L117.9 201.6L120.3 204.2 M112.4 198.5L107.0 198.5L105.7 199.1L106.3 195.5L107.8 193.5L107.5 191.7 M105.7 199.1L105.1 202.0L105.5 203.9L107.0 209.6 M107.0 198.5L107.5 200.7L107.0 202.3L105.5 203.9 M88.9 191.7L87.7 197.8L84.9 200.1L84.9 203.1L80.3 204.0L79.1 205.9L85.8 206.0L86.4 208.5L89.5 209.2L94.1 208.2L94.1 215.4 M75.5 195.5L77.7 195.5L77.7 193.6 M80.8 193.6L82.5 199.3L78.5 202.3L77.6 203.1 M107.0 209.6L110.7 211.4L112.4 211.6 M112.4 211.6L113.1 214.7 M275.7 201.0L275.7 207.6L275.5 211.1 M350.9 61.2L350.9 61.2" fill="none" stroke="#b07ab0" stroke-opacity=".5" stroke-width=".55" stroke-linejoin="round"/>
<path d="M104.9 128.7L103.2 127.3L103.1 125.4L104.1 124.0L104.3 121.9L105.8 120.4L107.0 118.2L109.0 117.1L110.1 118.4L111.6 118.6L110.1 119.9L111.6 121.7L112.8 122.1L114.7 120.8L116.2 120.4L113.9 118.2L114.4 117.3L117.0 116.7L118.9 116.0L120.5 116.2L118.9 118.0L118.0 119.3L117.0 120.2L117.0 120.8L118.5 122.1L121.1 124.0L123.8 126.0L124.0 127.9L121.5 129.1L119.2 129.1L117.0 128.7L115.9 128.5L113.9 127.1L111.6 127.1L109.3 127.7L108.3 128.9L106.3 128.9Z M101.7 129.3L103.2 128.3L105.5 128.7L104.8 129.5L102.5 129.7Z M133.0 124.2L132.8 121.0L131.9 118.9L133.7 117.8L136.0 116.7L139.1 115.5L141.4 116.0L141.7 119.3L139.1 119.5L138.3 121.0L137.3 121.4L138.3 124.2L140.9 125.2L140.6 127.3L141.4 127.9L143.7 127.3L144.0 128.7L142.1 129.1L141.4 130.3L142.1 131.7L142.6 133.3L142.7 135.6L141.4 136.3L139.1 136.7L137.3 135.6L135.6 135.0L135.1 133.4L135.7 131.7L136.0 129.7L137.3 129.5L136.0 128.7L135.0 126.7Z M149.5 118.2L150.5 118.0L150.5 121.0L149.5 121.4Z M152.4 116.0L154.3 116.2L153.6 117.3L152.5 117.1Z M106.6 81.2L107.8 77.2L110.1 78.1L110.5 80.3L108.6 81.9Z M113.1 78.8L113.9 73.9L115.9 76.2L115.1 78.8Z M218.9 104.8L221.5 102.5L225.3 99.2L227.6 94.5L228.4 94.7L226.8 99.2L223.8 102.8L220.7 105.0Z M172.7 119.3L174.9 116.2L180.3 116.4L181.1 117.1L176.5 117.1L173.4 119.9Z M176.8 125.4L178.8 124.8L180.0 125.2L178.0 125.8Z M109.0 197.5L110.9 196.5L112.7 197.0L112.4 199.3L110.9 201.0L109.3 200.5Z M105.1 202.2L105.8 202.2L107.5 210.2L106.7 210.2Z M211.6 22.6L216.1 21.5L220.7 22.6L217.7 24.3L213.1 24.3Z M79.6 86.0L81.1 84.0L81.9 85.2L80.3 86.6Z" fill="#aad3df"/>
<path d="M254.3 32.9L252.0 39.3L249.4 46.2L249.0 53.8L249.7 59.7L252.0 65.3L256.6 70.6L258.3 74.9L254.3 79.4L246.7 81.2L239.0 83.1 M108.1 148.6L108.0 154.2L110.4 156.2L110.7 159.3L108.6 162.6L107.8 166.7L110.9 169.1L112.2 169.5L110.1 172.9" fill="none" stroke="#aad3df" stroke-opacity=".6" stroke-width=".55" stroke-linejoin="round"/>
<g><circle cx="168.5" cy="106.5" r="6.6" fill="#00e400" fill-opacity=".82" stroke="#00e400" stroke-opacity=".5" stroke-width="2.4"/><circle cx="68.0" cy="189.0" r="6.6" fill="#9c9c9c" fill-opacity=".82" stroke="#9c9c9c" stroke-opacity=".5" stroke-width="2.4"/><circle cx="87.0" cy="121.0" r="6.6" fill="#ffff00" fill-opacity=".82" stroke="#ffff00" stroke-opacity=".5" stroke-width="2.4"/><circle cx="94.0" cy="124.3" r="6.6" fill="#ff7e00" fill-opacity=".82" stroke="#ff7e00" stroke-opacity=".5" stroke-width="2.4"/><circle cx="65.5" cy="135.0" r="6.6" fill="#9c9c9c" fill-opacity=".82" stroke="#9c9c9c" stroke-opacity=".5" stroke-width="2.4"/><circle cx="39.5" cy="181.5" r="6.6" fill="#ffff00" fill-opacity=".82" stroke="#ffff00" stroke-opacity=".5" stroke-width="2.4"/><circle cx="48.5" cy="177.0" r="6.6" fill="#ff0000" fill-opacity=".82" stroke="#ff0000" stroke-opacity=".5" stroke-width="2.4"/><circle cx="54.5" cy="188.0" r="6.6" fill="#ffff00" fill-opacity=".82" stroke="#ffff00" stroke-opacity=".5" stroke-width="2.4"/><circle cx="60.5" cy="187.0" r="6.6" fill="#ffff00" fill-opacity=".82" stroke="#ffff00" stroke-opacity=".5" stroke-width="2.4"/><circle cx="72.0" cy="182.5" r="6.6" fill="#96105a" fill-opacity=".82" stroke="#96105a" stroke-opacity=".5" stroke-width="2.4"/><circle cx="84.0" cy="177.5" r="6.6" fill="#5e0a30" fill-opacity=".82" stroke="#5e0a30" stroke-opacity=".5" stroke-width="2.4"/><circle cx="112.0" cy="194.5" r="6.6" fill="#ff7e00" fill-opacity=".82" stroke="#ff7e00" stroke-opacity=".5" stroke-width="2.4"/><circle cx="119.5" cy="182.0" r="6.6" fill="#ffff00" fill-opacity=".82" stroke="#ffff00" stroke-opacity=".5" stroke-width="2.4"/><circle cx="110.0" cy="172.0" r="6.6" fill="#96105a" fill-opacity=".82" stroke="#96105a" stroke-opacity=".5" stroke-width="2.4"/><circle cx="120.5" cy="162.5" r="6.6" fill="#ffff00" fill-opacity=".82" stroke="#ffff00" stroke-opacity=".5" stroke-width="2.4"/><circle cx="131.0" cy="157.5" r="6.6" fill="#9c9c9c" fill-opacity=".82" stroke="#9c9c9c" stroke-opacity=".5" stroke-width="2.4"/><circle cx="115.5" cy="144.5" r="6.6" fill="#9c9c9c" fill-opacity=".82" stroke="#9c9c9c" stroke-opacity=".5" stroke-width="2.4"/><circle cx="129.0" cy="142.5" r="6.6" fill="#ffff00" fill-opacity=".82" stroke="#ffff00" stroke-opacity=".5" stroke-width="2.4"/><circle cx="134.5" cy="149.5" r="6.6" fill="#ffff00" fill-opacity=".82" stroke="#ffff00" stroke-opacity=".5" stroke-width="2.4"/><circle cx="144.5" cy="159.5" r="6.6" fill="#00e400" fill-opacity=".82" stroke="#00e400" stroke-opacity=".5" stroke-width="2.4"/><circle cx="146.0" cy="156.0" r="6.6" fill="#ff7e00" fill-opacity=".82" stroke="#ff7e00" stroke-opacity=".5" stroke-width="2.4"/><circle cx="139.0" cy="155.5" r="6.6" fill="#ff7e00" fill-opacity=".82" stroke="#ff7e00" stroke-opacity=".5" stroke-width="2.4"/><circle cx="149.5" cy="134.0" r="6.6" fill="#00e400" fill-opacity=".82" stroke="#00e400" stroke-opacity=".5" stroke-width="2.4"/><circle cx="165.5" cy="132.0" r="6.6" fill="#ffff00" fill-opacity=".82" stroke="#ffff00" stroke-opacity=".5" stroke-width="2.4"/><circle cx="166.0" cy="126.5" r="6.6" fill="#ffff00" fill-opacity=".82" stroke="#ffff00" stroke-opacity=".5" stroke-width="2.4"/><circle cx="178.0" cy="124.0" r="6.6" fill="#00e400" fill-opacity=".82" stroke="#00e400" stroke-opacity=".5" stroke-width="2.4"/><circle cx="164.0" cy="141.0" r="6.6" fill="#ff0000" fill-opacity=".82" stroke="#ff0000" stroke-opacity=".5" stroke-width="2.4"/><circle cx="171.5" cy="140.5" r="6.6" fill="#ff7e00" fill-opacity=".82" stroke="#ff7e00" stroke-opacity=".5" stroke-width="2.4"/><circle cx="174.0" cy="144.5" r="6.6" fill="#ffff00" fill-opacity=".82" stroke="#ffff00" stroke-opacity=".5" stroke-width="2.4"/><circle cx="163.0" cy="156.5" r="6.6" fill="#ffff00" fill-opacity=".82" stroke="#ffff00" stroke-opacity=".5" stroke-width="2.4"/><circle cx="177.5" cy="150.5" r="6.6" fill="#96105a" fill-opacity=".82" stroke="#96105a" stroke-opacity=".5" stroke-width="2.4"/><circle cx="190.5" cy="151.5" r="6.6" fill="#5e0a30" fill-opacity=".82" stroke="#5e0a30" stroke-opacity=".5" stroke-width="2.4"/><circle cx="195.3" cy="161.5" r="6.6" fill="#ff0000" fill-opacity=".82" stroke="#ff0000" stroke-opacity=".5" stroke-width="2.4"/><circle cx="198.5" cy="158.5" r="6.6" fill="#ff0000" fill-opacity=".82" stroke="#ff0000" stroke-opacity=".5" stroke-width="2.4"/><circle cx="171.0" cy="166.0" r="6.6" fill="#ff0000" fill-opacity=".82" stroke="#ff0000" stroke-opacity=".5" stroke-width="2.4"/><circle cx="180.0" cy="168.0" r="6.6" fill="#ff0000" fill-opacity=".82" stroke="#ff0000" stroke-opacity=".5" stroke-width="2.4"/><circle cx="183.0" cy="175.0" r="6.6" fill="#ff7e00" fill-opacity=".82" stroke="#ff7e00" stroke-opacity=".5" stroke-width="2.4"/><circle cx="183.0" cy="185.0" r="6.6" fill="#ffff00" fill-opacity=".82" stroke="#ffff00" stroke-opacity=".5" stroke-width="2.4"/><circle cx="208.0" cy="170.0" r="6.6" fill="#9c9c9c" fill-opacity=".82" stroke="#9c9c9c" stroke-opacity=".5" stroke-width="2.4"/><circle cx="218.0" cy="168.0" r="6.6" fill="#ff0000" fill-opacity=".82" stroke="#ff0000" stroke-opacity=".5" stroke-width="2.4"/><circle cx="222.5" cy="163.0" r="6.6" fill="#ffff00" fill-opacity=".82" stroke="#ffff00" stroke-opacity=".5" stroke-width="2.4"/><circle cx="234.0" cy="159.5" r="6.6" fill="#ffff00" fill-opacity=".82" stroke="#ffff00" stroke-opacity=".5" stroke-width="2.4"/><circle cx="223.5" cy="179.5" r="6.6" fill="#ffff00" fill-opacity=".82" stroke="#ffff00" stroke-opacity=".5" stroke-width="2.4"/><circle cx="224.0" cy="114.5" r="6.6" fill="#ff7e00" fill-opacity=".82" stroke="#ff7e00" stroke-opacity=".5" stroke-width="2.4"/><circle cx="238.0" cy="129.5" r="6.6" fill="#96105a" fill-opacity=".82" stroke="#96105a" stroke-opacity=".5" stroke-width="2.4"/><circle cx="249.0" cy="126.0" r="6.6" fill="#9c9c9c" fill-opacity=".82" stroke="#9c9c9c" stroke-opacity=".5" stroke-width="2.4"/><circle cx="246.0" cy="146.0" r="6.6" fill="#ffff00" fill-opacity=".82" stroke="#ffff00" stroke-opacity=".5" stroke-width="2.4"/><circle cx="224.0" cy="205.5" r="6.6" fill="#ffe600" fill-opacity=".82" stroke="#ffe600" stroke-opacity=".5" stroke-width="2.4"/></g>
<g class="mlab"><text x="87.0" y="123.1">80</text><text x="94.0" y="126.4">142</text><text x="65.5" y="137.1">N/A</text><text x="39.5" y="183.6">80</text><text x="48.5" y="179.1">157</text><text x="54.5" y="190.1">75</text><text x="60.5" y="189.1">0</text><text x="72.0" y="184.6">272</text><text x="84.0" y="179.6">525</text><text x="112.0" y="196.6">142</text><text x="119.5" y="184.1">64</text><text x="110.0" y="174.1">254</text><text x="120.5" y="164.6">75</text><text x="131.0" y="159.6">N/A</text><text x="115.5" y="146.6">N/A</text><text x="129.0" y="144.6">73</text><text x="134.5" y="151.6">94</text><text x="146.0" y="158.1">49</text><text x="139.0" y="157.6">128</text><text x="149.5" y="136.1">44</text><text x="165.5" y="134.1">76</text><text x="166.0" y="128.6">98</text><text x="178.0" y="126.1">128</text><text x="164.0" y="143.1">119</text><text x="171.5" y="142.6">97</text><text x="174.0" y="146.6">271</text><text x="163.0" y="158.6">91</text><text x="177.5" y="152.6">206</text><text x="190.5" y="153.6">356</text><text x="195.3" y="163.6">120</text><text x="198.5" y="160.6">130</text><text x="171.0" y="168.1">165</text><text x="180.0" y="170.1">200</text><text x="183.0" y="177.1">129</text><text x="183.0" y="187.1">100</text><text x="208.0" y="172.1">N/A</text><text x="218.0" y="170.1">167</text><text x="222.5" y="165.1">63</text><text x="234.0" y="161.6">96</text><text x="223.5" y="181.6">74</text><text x="224.0" y="116.6">121</text><text x="238.0" y="131.6">221</text><text x="249.0" y="128.1">N/A</text><text x="246.0" y="148.1">66</text><text x="224.0" y="207.6">93</text></g>
</svg>
<div class="abs tip"></div>
<div class="abs popup"><div class="txt">Bishkek<br>2021-03-27 9:00 AM<br>(LT)</div>
<div class="ptab"><div class="h" style="left:0;width:89px">Pollutant</div><div class="h" style="left:90px;width:48px">AQI</div><div class="c" style="left:1.6px;width:86.6px">PM2.5</div><div class="c" style="left:90.2px;width:47.6px;background:#ffff00">55</div></div>
</div>
<div class="abs tipcover"></div>
</div>
<div class="abs sec" style="top:8px">Select a City</div>
<div class="abs dd" style="top:45px">Bishkek<span class="x">×</span><span class="a"></span></div>
<div class="abs sec" style="top:108px">Select a Parameter</div>
<div class="abs dd" style="top:145px;height:41px">PM2.5<span class="x">×</span><span class="a"></span></div>
<div class="abs bx">Bishkek
<svg style="position:absolute;right:10px;bottom:12px" width="37" height="37" viewBox="0 0 37 37"><rect width="37" height="37" fill="#f0b03c"/><circle cx="9" cy="28" r="4" fill="#fff"/><path d="M5 17a15 15 0 0 1 15 15" fill="none" stroke="#fff" stroke-width="5"/><path d="M5 7a25 25 0 0 1 25 25" fill="none" stroke="#fff" stroke-width="5"/></svg></div>
<div class="abs note">Note: Values above 500 are considered Beyond the AQI. Follow<br>recommendations for the Hazardous category. Additional information<br>on reducing exposure to extremely high levels of particle pollution is<br>available <b>here</b>.</div>
<div class="abs tabs"><div class="tab on" style="left:0;width:116px">AQI</div><div class="tab" style="left:119px;width:177px">Concentration</div><div class="tab" style="left:300px;width:147px">Historical</div></div>
<div class="abs learn">Learn more about how the Air Quality Index [AQI] is calculated from the EPA <b>here</b>.</div>
<div class="abs chart"><svg class="chartsvg" width="858" height="420" viewBox="0 0 858 420"><line x1="80.6" x2="845.6" y1="66.4" y2="66.4" stroke="#e6e6e6" stroke-width="1.2"/><text class="yl" x="64.6" y="69.6" text-anchor="end">500</text><line x1="80.6" x2="845.6" y1="105.2" y2="105.2" stroke="#e6e6e6" stroke-width="1.2"/><text class="yl" x="64.6" y="108.4" text-anchor="end">400</text><line x1="80.6" x2="845.6" y1="144.0" y2="144.0" stroke="#e6e6e6" stroke-width="1.2"/><text class="yl" x="64.6" y="147.2" text-anchor="end">300</text><line x1="80.6" x2="845.6" y1="182.8" y2="182.8" stroke="#e6e6e6" stroke-width="1.2"/><text class="yl" x="64.6" y="186.0" text-anchor="end">200</text><line x1="80.6" x2="845.6" y1="221.6" y2="221.6" stroke="#e6e6e6" stroke-width="1.2"/><text class="yl" x="64.6" y="224.8" text-anchor="end">100</text><line x1="80.6" x2="845.6" y1="260.4" y2="260.4" stroke="#e6e6e6" stroke-width="1.2"/><text class="yl" x="64.6" y="263.6" text-anchor="end">0</text><line x1="80.6" x2="845.6" y1="260.4" y2="260.4" stroke="#ccd6eb" stroke-width="1.2"/><line x1="80.6" x2="80.6" y1="260.4" y2="270.4" stroke="#c6d0e4" stroke-width="1.4"/><line x1="112.5" x2="112.5" y1="260.4" y2="270.4" stroke="#c6d0e4" stroke-width="1.4"/><line x1="144.3" x2="144.3" y1="260.4" y2="270.4" stroke="#c6d0e4" stroke-width="1.4"/><line x1="176.2" x2="176.2" y1="260.4" y2="270.4" stroke="#c6d0e4" stroke-width="1.4"/><line x1="208.1" x2="208.1" y1="260.4" y2="270.4" stroke="#c6d0e4" stroke-width="1.4"/><line x1="240.0" x2="240.0" y1="260.4" y2="270.4" stroke="#c6d0e4" stroke-width="1.4"/><line x1="271.9" x2="271.9" y1="260.4" y2="270.4" stroke="#c6d0e4" stroke-width="1.4"/><line x1="303.7" x2="303.7" y1="260.4" y2="270.4" stroke="#c6d0e4" stroke-width="1.4"/><line x1="335.6" x2="335.6" y1="260.4" y2="270.4" stroke="#c6d0e4" stroke-width="1.4"/><line x1="367.5" x2="367.5" y1="260.4" y2="270.4" stroke="#c6d0e4" stroke-width="1.4"/><line x1="399.4" x2="399.4" y1="260.4" y2="270.4" stroke="#c6d0e4" stroke-width="1.4"/><line x1="431.2" x2="431.2" y1="260.4" y2="270.4" stroke="#c6d0e4" stroke-width="1.4"/><line x1="463.1" x2="463.1" y1="260.4" y2="270.4" stroke="#c6d0e4" stroke-width="1.4"/><line x1="495.0" x2="495.0" y1="260.4" y2="270.4" stroke="#c6d0e4" stroke-width="1.4"/><line x1="526.9" x2="526.9" y1="260.4" y2="270.4" stroke="#c6d0e4" stroke-width="1.4"/><line x1="558.7" x2="558.7" y1="260.4" y2="270.4" stroke="#c6d0e4" stroke-width="1.4"/><line x1="590.6" x2="590.6" y1="260.4" y2="270.4" stroke="#c6d0e4" stroke-width="1.4"/><line x1="622.5" x2="622.5" y1="260.4" y2="270.4" stroke="#c6d0e4" stroke-width="1.4"/><line x1="654.4" x2="654.4" y1="260.4" y2="270.4" stroke="#c6d0e4" stroke-width="1.4"/><line x1="686.2" x2="686.2" y1="260.4" y2="270.4" stroke="#c6d0e4" stroke-width="1.4"/><line x1="718.1" x2="718.1" y1="260.4" y2="270.4" stroke="#c6d0e4" stroke-width="1.4"/><line x1="750.0" x2="750.0" y1="260.4" y2="270.4" stroke="#c6d0e4" stroke-width="1.4"/><line x1="781.9" x2="781.9" y1="260.4" y2="270.4" stroke="#c6d0e4" stroke-width="1.4"/><line x1="813.7" x2="813.7" y1="260.4" y2="270.4" stroke="#c6d0e4" stroke-width="1.4"/><line x1="845.6" x2="845.6" y1="260.4" y2="270.4" stroke="#c6d0e4" stroke-width="1.4"/><rect x="88.5" y="235.2" width="16" height="25.2" fill="#ffff00" stroke="#555533" stroke-width="1.4"/><text class="xl" transform="translate(100.5 277.9) rotate(-45)" text-anchor="end">10 AM</text><rect x="120.4" y="227.8" width="16" height="32.6" fill="#ffff00" stroke="#555533" stroke-width="1.4"/><text class="xl" transform="translate(132.4 277.9) rotate(-45)" text-anchor="end">11 AM</text><rect x="152.3" y="229.7" width="16" height="30.7" fill="#ffff00" stroke="#555533" stroke-width="1.4"/><text class="xl" transform="translate(164.3 277.9) rotate(-45)" text-anchor="end">12 PM</text><rect x="184.2" y="233.6" width="16" height="26.8" fill="#ffff00" stroke="#555533" stroke-width="1.4"/><text class="xl" transform="translate(196.2 277.9) rotate(-45)" text-anchor="end">1 PM</text><rect x="216.0" y="237.1" width="16" height="23.3" fill="#ffff00" stroke="#555533" stroke-width="1.4"/><text class="xl" transform="translate(228.0 277.9) rotate(-45)" text-anchor="end">2 PM</text><rect x="247.9" y="235.2" width="16" height="25.2" fill="#ffff00" stroke="#555533" stroke-width="1.4"/><text class="xl" transform="translate(259.9 277.9) rotate(-45)" text-anchor="end">3 PM</text><rect x="279.8" y="229.7" width="16" height="30.7" fill="#ffff00" stroke="#555533" stroke-width="1.4"/><text class="xl" transform="translate(291.8 277.9) rotate(-45)" text-anchor="end">4 PM</text><rect x="311.7" y="229.0" width="16" height="31.4" fill="#ffff00" stroke="#555533" stroke-width="1.4"/><text class="xl" transform="translate(323.7 277.9) rotate(-45)" text-anchor="end">5 PM</text><rect x="343.5" y="229.7" width="16" height="30.7" fill="#ffff00" stroke="#555533" stroke-width="1.4"/><text class="xl" transform="translate(355.5 277.9) rotate(-45)" text-anchor="end">6 PM</text><rect x="375.4" y="233.6" width="16" height="26.8" fill="#ffff00" stroke="#555533" stroke-width="1.4"/><text class="xl" transform="translate(387.4 277.9) rotate(-45)" text-anchor="end">7 PM</text><rect x="407.3" y="239.4" width="16" height="21.0" fill="#ffff00" stroke="#555533" stroke-width="1.4"/><text class="xl" transform="translate(419.3 277.9) rotate(-45)" text-anchor="end">8 PM</text><rect x="439.2" y="240.6" width="16" height="19.8" fill="#ffff00" stroke="#555533" stroke-width="1.4"/><text class="xl" transform="translate(451.2 277.9) rotate(-45)" text-anchor="end">9 PM</text><rect x="471.0" y="239.4" width="16" height="21.0" fill="#ffff00" stroke="#555533" stroke-width="1.4"/><text class="xl" transform="translate(483.0 277.9) rotate(-45)" text-anchor="end">10 PM</text><rect x="502.9" y="242.9" width="16" height="17.5" fill="#00e400" stroke="#555533" stroke-width="1.4"/><text class="xl" transform="translate(514.9 277.9) rotate(-45)" text-anchor="end">11 PM</text><rect x="534.8" y="239.4" width="16" height="21.0" fill="#ffff00" stroke="#555533" stroke-width="1.4"/><text class="xl" transform="translate(546.8 277.9) rotate(-45)" text-anchor="end">Mar 27, 2021 12 AM</text><rect x="566.7" y="238.7" width="16" height="21.7" fill="#ffff00" stroke="#555533" stroke-width="1.4"/><text class="xl" transform="translate(578.7 277.9) rotate(-45)" text-anchor="end">1 AM</text><rect x="598.5" y="235.2" width="16" height="25.2" fill="#ffff00" stroke="#555533" stroke-width="1.4"/><text class="xl" transform="translate(610.5 277.9) rotate(-45)" text-anchor="end">2 AM</text><rect x="630.4" y="236.3" width="16" height="24.1" fill="#ffff00" stroke="#555533" stroke-width="1.4"/><text class="xl" transform="translate(642.4 277.9) rotate(-45)" text-anchor="end">3 AM</text><rect x="662.3" y="239.4" width="16" height="21.0" fill="#ffff00" stroke="#555533" stroke-width="1.4"/><text class="xl" transform="translate(674.3 277.9) rotate(-45)" text-anchor="end">4 AM</text><rect x="694.2" y="240.6" width="16" height="19.8" fill="#ffff00" stroke="#555533" stroke-width="1.4"/><text class="xl" transform="translate(706.2 277.9) rotate(-45)" text-anchor="end">5 AM</text><rect x="726.0" y="237.5" width="16" height="22.9" fill="#ffff00" stroke="#555533" stroke-width="1.4"/><text class="xl" transform="translate(738.0 277.9) rotate(-45)" text-anchor="end">6 AM</text><rect x="757.9" y="238.7" width="16" height="21.7" fill="#ffff00" stroke="#555533" stroke-width="1.4"/><text class="xl" transform="translate(769.9 277.9) rotate(-45)" text-anchor="end">7 AM</text><rect x="789.8" y="239.4" width="16" height="21.0" fill="#ffff00" stroke="#555533" stroke-width="1.4"/><text class="xl" transform="translate(801.8 277.9) rotate(-45)" text-anchor="end">8 AM</text><rect x="821.7" y="239.4" width="16" height="21.0" fill="#ffff00" stroke="#555533" stroke-width="1.4"/><text class="xl" transform="translate(833.7 277.9) rotate(-45)" text-anchor="end">9 AM</text><text class="ttl" x="428.6" y="25.0" text-anchor="middle">Bishkek - PM2.5</text><text class="yt" transform="translate(31.6 159.0) rotate(-90)" text-anchor="middle">AQI</text><rect x="404.0" y="386.0" width="18" height="12" fill="#cccccc"/><text class="lg" x="426.8" y="397.6">AQI</text></svg></div>
<div class="abs cc"><div class="h"><div style="top:8px;font-size:16px;line-height:20px">Current Conditions</div><div style="top:31px;font-size:13px;line-height:18px">observed at</div><div style="top:52px;font-size:16px;line-height:20px">Mar 27, 2021 9:00 AM (LT)</div></div>
<div class="y">55 AQI<br>Moderate<br>PM2.5</div>
<div class="hm">Health Message</div>
<div class="tx">The AQI is between 51 and 100. Air quality is<br>acceptable; however, pollution in this range<br>may pose a moderate health concern for a<br>very small number of individuals. People<br>who are unusually sensitive to ozone or<br>particle pollution may experience respiratory<br>symptoms.</div></div>
</div>
</body></html>
